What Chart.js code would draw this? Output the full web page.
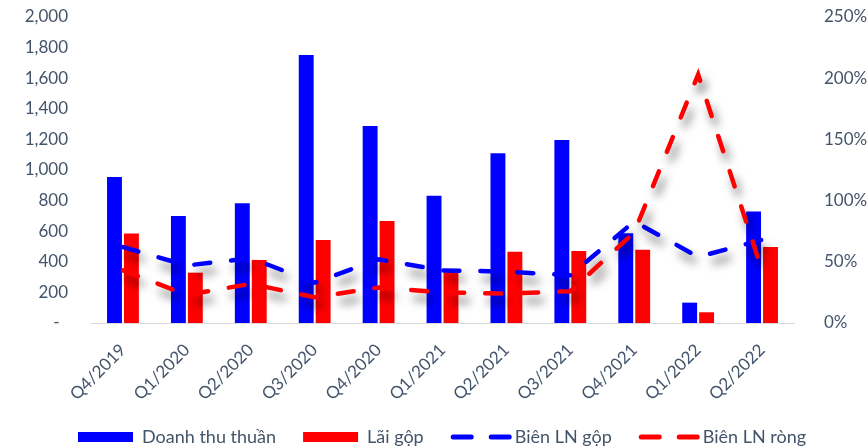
<!DOCTYPE html>
<html>
<head>
<meta charset="utf-8">
<script src="https://cdn.jsdelivr.net/npm/chart.js@4/dist/chart.umd.min.js"></script>
<style>
  html, body { margin: 0; padding: 0; background: #ffffff; }
  #wrap { width: 867px; height: 448px; }
</style>
</head>
<body>
<div id="wrap"><canvas id="chart" width="867" height="448"></canvas></div>
<script>
// Quarterly figures (bn VND) and margins (%)
const categories = ['Q4/2019', 'Q1/2020', 'Q2/2020', 'Q3/2020', 'Q4/2020', 'Q1/2021',
                    'Q2/2021', 'Q3/2021', 'Q4/2021', 'Q1/2022', 'Q2/2022'];
const revenue     = [955, 700, 782, 1752, 1288, 832, 1109, 1196, 586, 133, 728];
const grossProfit = [585, 329, 412, 542, 667, 351, 466, 471, 479, 70, 497];
const grossMargin = [62, 47, 53, 33, 52, 43, 42, 39, 83, 54, 68];
const netMargin   = [43, 23, 32, 21, 29, 25, 24, 26, 74, 203, 43];

const leftTicks  = { min: 0, max: 2000, step: 200 };
const rightTicks = { min: 0, max: 250, step: 50 };

const TEXT = '#44546A';
const FONT = 'Lato, "Liberation Sans", sans-serif';
const BLUE = '#0000FF';
const RED = '#FF0000';

// soft drop shadow under the margin lines
const lineShadow = {
  id: 'lineShadow',
  beforeDatasetDraw(chart, args) {
    if (args.meta.type !== 'line') return;
    const ctx = chart.ctx;
    ctx.save();
    ctx.shadowColor = 'rgba(0,0,0,0.55)';
    ctx.shadowBlur = 10;
    ctx.shadowOffsetX = 4;
    ctx.shadowOffsetY = 8;
  },
  afterDatasetDraw(chart, args) {
    if (args.meta.type !== 'line') return;
    chart.ctx.restore();
  }
};

// legend row under the category labels
const bottomLegend = {
  id: 'bottomLegend',
  afterDraw(chart) {
    const ctx = chart.ctx;
    const y = 437;
    let x = 78;
    ctx.save();
    ctx.font = '18px ' + FONT;
    ctx.textBaseline = 'middle';
    ctx.textAlign = 'left';
    chart.data.datasets.forEach(ds => {
      if (ds.type === 'bar') {
        ctx.fillStyle = ds.backgroundColor;
        ctx.fillRect(x, y - 5, 55, 10);
        x += 64;
      } else {
        ctx.strokeStyle = ds.borderColor;
        ctx.lineWidth = 5;
        ctx.lineCap = 'round';
        ctx.setLineDash([18, 20]);
        ctx.beginPath();
        ctx.moveTo(x + 2.5, y);
        ctx.lineTo(x + 59, y);
        ctx.stroke();
        ctx.setLineDash([]);
        x += 64;
      }
      ctx.fillStyle = TEXT;
      ctx.fillText(ds.label, x, y);
      x += ctx.measureText(ds.label).width + 27;
    });
    ctx.restore();
  }
};

new Chart(document.getElementById('chart'), {
  data: {
    labels: categories,
    datasets: [
      { type: 'bar', label: 'Doanh thu thuần', data: revenue, backgroundColor: BLUE,
        yAxisID: 'y', order: 2, categoryPercentage: 0.53, barPercentage: 0.88 },
      { type: 'bar', label: 'Lãi gộp', data: grossProfit, backgroundColor: RED,
        yAxisID: 'y', order: 2, categoryPercentage: 0.53, barPercentage: 0.88 },
      { type: 'line', label: 'Biên LN gộp', data: grossMargin, borderColor: BLUE,
        borderWidth: 4.5, borderDash: [16, 21], borderCapStyle: 'round', pointRadius: 0,
        tension: 0, fill: false, yAxisID: 'y1', order: 1 },
      { type: 'line', label: 'Biên LN ròng', data: netMargin, borderColor: RED,
        borderWidth: 4.5, borderDash: [16, 21], borderCapStyle: 'round', pointRadius: 0,
        tension: 0, fill: false, yAxisID: 'y1', order: 0 }
    ]
  },
  options: {
    responsive: false,
    animation: false,
    devicePixelRatio: 1,
    layout: { padding: { top: 17, left: 0, right: 0, bottom: 0 } },
    plugins: { legend: { display: false }, tooltip: { enabled: false } },
    scales: {
      x: {
        grid: { display: false },
        border: { display: true, color: '#D9D9D9', width: 1 },
        ticks: { color: TEXT, font: { family: FONT, size: 17 }, minRotation: 45, maxRotation: 45, padding: 9 },
        afterFit(s) { s.height = 125; s.paddingLeft = 0; s.paddingRight = 0; }
      },
      y: {
        position: 'left',
        min: leftTicks.min, max: leftTicks.max,
        grid: { display: false },
        border: { display: false },
        ticks: {
          stepSize: leftTicks.step, color: TEXT, font: { family: FONT, size: 17 }, padding: 15,
          callback: v => v === 0 ? '-\u2002' : v.toLocaleString('en-US')
        },
        afterFit(s) { s.width = 91; s.paddingTop = 0; s.paddingBottom = 0; }
      },
      y1: {
        position: 'right',
        min: rightTicks.min, max: rightTicks.max,
        grid: { display: false },
        border: { display: false },
        ticks: {
          stepSize: rightTicks.step, color: TEXT, font: { family: FONT, size: 17 }, padding: 22,
          callback: v => v + '%'
        },
        afterFit(s) { s.width = 73; s.paddingTop = 0; s.paddingBottom = 0; }
      }
    }
  },
  plugins: [lineShadow, bottomLegend]
});
</script>
</body>
</html>
